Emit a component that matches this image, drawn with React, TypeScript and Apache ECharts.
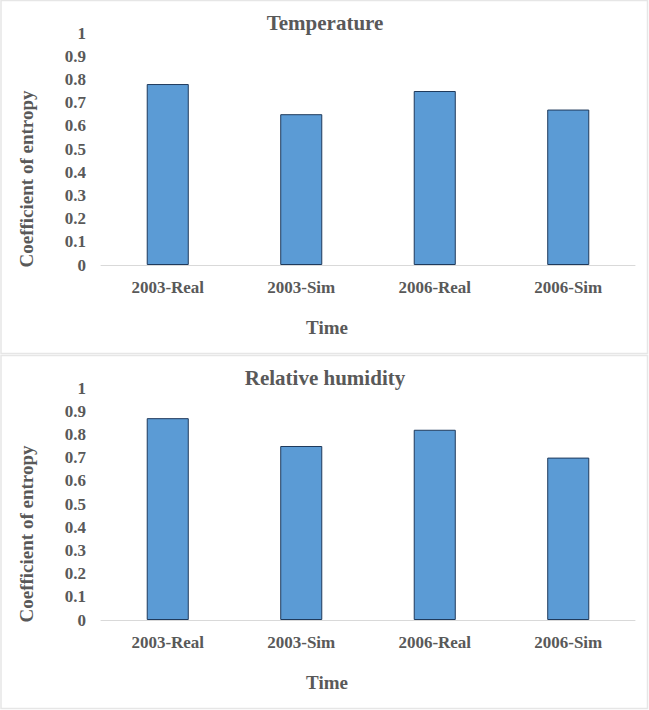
import React, { useEffect, useRef } from "react";
import * as echarts from "echarts";

const categories = ["2003-Real", "2003-Sim", "2006-Real", "2006-Sim"];
const temperatureValues = [0.78, 0.65, 0.75, 0.67];
const humidityValues = [0.87, 0.75, 0.82, 0.7];
const panelTitles = ["Temperature", "Relative humidity"];
const yAxisTitle = "Coefficient of entropy";
const xAxisTitle = "Time";

const FONT = "Liberation Serif";
const TEXT = "#595959";

export default function App() {
  const ref = useRef<HTMLDivElement>(null);
  useEffect(() => {
    if (!ref.current) return;
    const chart = echarts.init(ref.current, undefined, { renderer: "svg" });
    const panelTop = [0, 355];
    const grids = panelTop.map((t) => ({
      left: 101,
      right: 14,
      top: t + 33,
      height: 232,
      containLabel: false,
    }));
    const xAxes = panelTop.map((_, i) => ({
      type: "category",
      gridIndex: i,
      data: categories,
      axisLine: { show: true, lineStyle: { color: "#d9d9d9", width: 1 } },
      axisTick: { show: false },
      axisLabel: {
        color: TEXT,
        fontFamily: FONT,
        fontWeight: "bold",
        fontSize: 17,
        margin: 14,
      },
      splitLine: { show: false },
    }));
    const yAxes = panelTop.map((_, i) => ({
      type: "value",
      gridIndex: i,
      min: 0,
      max: 1,
      interval: 0.1,
      axisLine: { show: false },
      axisTick: { show: false },
      splitLine: { show: false },
      axisLabel: {
        color: TEXT,
        fontFamily: FONT,
        fontWeight: "bold",
        fontSize: 17,
        margin: 15,
        formatter: (v: number) => String(Math.round(v * 10) / 10),
      },
    }));
    const seriesData = [temperatureValues, humidityValues];
    const series = seriesData.map((d, i) => ({
      type: "bar",
      xAxisIndex: i,
      yAxisIndex: i,
      data: d,
      barWidth: "31.5%",
      itemStyle: { color: "#5B9BD5", borderColor: "#1f3a5c", borderWidth: 1 },
    }));
    const graphics: any[] = [];
    panelTop.forEach((t, i) => {
      graphics.push({
        type: "rect",
        shape: { x: 1, y: t + 0.5, width: 646.5, height: 353 },
        style: { fill: "none", stroke: "#e6e6e6", lineWidth: 1.5 },
        z: -1,
      });
      graphics.push({
        type: "text",
        x: 325,
        y: t + 23,
        style: {
          text: panelTitles[i],
          fontFamily: FONT,
          fontWeight: "bold",
          fontSize: 21,
          fill: TEXT,
          align: "center",
          verticalAlign: "middle",
        },
      });
      graphics.push({
        type: "text",
        x: 327,
        y: t + 327,
        style: {
          text: xAxisTitle,
          fontFamily: FONT,
          fontWeight: "bold",
          fontSize: 19,
          fill: TEXT,
          align: "center",
          verticalAlign: "middle",
        },
      });
      graphics.push({
        type: "text",
        x: 26,
        y: t + 179,
        rotation: Math.PI / 2,
        style: {
          text: yAxisTitle,
          fontFamily: FONT,
          fontWeight: "bold",
          fontSize: 19,
          fill: TEXT,
          align: "center",
          verticalAlign: "middle",
        },
      });
    });
    chart.setOption({
      animation: false,
      backgroundColor: "#ffffff",
      textStyle: { fontFamily: FONT },
      grid: grids,
      xAxis: xAxes,
      yAxis: yAxes,
      series,
      graphic: graphics,
    });
    return () => chart.dispose();
  }, []);
  return (
    <div
      ref={ref}
      style={{ position: "fixed", left: 0, top: 0, width: 649, height: 710 }}
    />
  );
}
